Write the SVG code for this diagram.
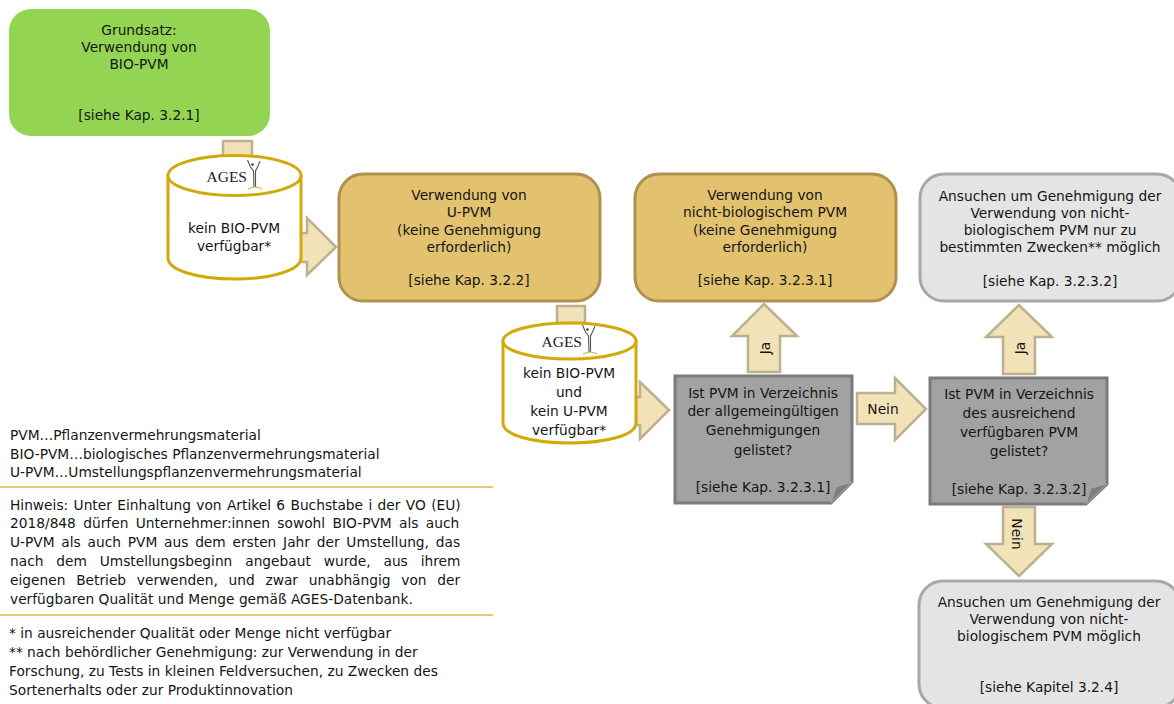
<svg xmlns="http://www.w3.org/2000/svg" width="1174" height="704" viewBox="0 0 1174 704">
<style>
text{font-family:"DejaVu Sans","Liberation Sans",sans-serif;font-size:13.75px;fill:#151515}
.c{text-anchor:middle}
.arrow{fill:#f1e2b8;stroke:#bdb08f;stroke-width:2.5;stroke-linejoin:miter}
.cyl{fill:#fff;stroke:#d1aa0a;stroke-width:3}
.gold{fill:#e2c26f;stroke:#b0924f;stroke-width:3}
.light{fill:#e4e4e4;stroke:#a8a8a8;stroke-width:3}
.note{fill:#a2a2a2;stroke:#7b7b7b;stroke-width:3}
.fold{fill:#7f7f7f;stroke:#a5a5a5;stroke-width:1}
.rule{stroke:#d9b84c;stroke-width:1.5}
.logo{font-family:"Liberation Serif",serif;font-size:15.5px;fill:#222}
</style>
<defs>
<g id="logo">
<text class="logo" x="0" y="0" text-anchor="end">AGES</text>
<path d="M0.5-22 3.500-15 6.500-11 7 5M13-21 10.500-15 8.500-11 8.500 5" fill="none" stroke="#555" stroke-width="1.1"/>
<circle cx="5.500" cy="-17.500" r="1.3" fill="#444"/>
<path d="M1 7Q8 3 15 7" fill="none" stroke="#d1aa0a" stroke-width="1"/>
</g>
</defs>
<g id="connectors">
<path class="arrow" d="M223 141H252V158H223Z"/>
<path class="arrow" d="M300 233H307V218L336 247 307 275V262H300Z"/>
<path class="arrow" d="M557 306H585V323H557Z"/>
<path class="arrow" d="M636 397H640V382L669 410 640 439V425H636Z"/>
<path class="arrow" d="M748 372V336H732L764 304 797 336H780V372Z"/>
<path class="arrow" d="M857 393H895V378L926 409 895 440V424H857Z"/>
<path class="arrow" d="M1003 374V337H986L1019 305 1052 337H1035V374Z"/>
<path class="arrow" d="M1003 507V544H986L1019 576 1052 544H1035V507Z"/>
<text class="c" transform="translate(770,348) rotate(-90)">Ja</text>
<text class="c" x="883" y="414">Nein</text>
<text class="c" transform="translate(1025,348) rotate(-90)">Ja</text>
<text class="c" transform="translate(1012,534) rotate(90)">Nein</text>
</g>
<g id="n-grundsatz">
<rect x="9" y="9" width="261" height="127" rx="22" fill="#93d552"/>
<text class="c" x="139" y="35">Grundsatz:</text><text class="c" x="139" y="52">Verwendung von</text><text class="c" x="139" y="69">BIO-PVM</text><text class="c" x="139" y="120">[siehe Kap. 3.2.1]</text>
</g>
<g id="n-db1">
<path class="cyl" d="M168 176V258C168 270 197 279 234.500 279S301 270 301 258V176Z"/>
<ellipse class="cyl" cx="234.500" cy="175.500" rx="66.500" ry="20"/>
<use href="#logo" x="247" y="182"/>
<text class="c" x="234" y="233">kein BIO-PVM</text><text class="c" x="234" y="251">verfügbar*</text>
</g>
<g id="n-upvm">
<rect class="gold" x="339" y="174" width="261" height="127" rx="24"/>
<text class="c" x="469" y="200">Verwendung von</text><text class="c" x="469" y="217">U-PVM</text><text class="c" x="469" y="235">(keine Genehmigung</text><text class="c" x="469" y="252">erforderlich)</text><text class="c" x="469" y="285">[siehe Kap. 3.2.2]</text>
</g>
<g id="n-nonbio">
<rect class="gold" x="635" y="174" width="261" height="127" rx="24"/>
<text class="c" x="765" y="200">Verwendung von</text><text class="c" x="765" y="217">nicht-biologischem PVM</text><text class="c" x="765" y="235">(keine Genehmigung</text><text class="c" x="765" y="252">erforderlich)</text><text class="c" x="765" y="285">[siehe Kap. 3.2.3.1]</text>
</g>
<g id="n-ansuchen1">
<rect class="light" x="920" y="174" width="261" height="127" rx="24"/>
<text class="c" x="1050" y="201">Ansuchen um Genehmigung der</text><text class="c" x="1050" y="218">Verwendung von nicht-</text><text class="c" x="1050" y="235">biologischem PVM nur zu</text><text class="c" x="1050" y="252">bestimmten Zwecken** möglich</text><text class="c" x="1050" y="286">[siehe Kap. 3.2.3.2]</text>
</g>
<g id="n-db2">
<path class="cyl" d="M503 341V423C503 435 532 443 569.500 443S636 435 636 423V341Z"/>
<ellipse class="cyl" cx="569.500" cy="341" rx="66.500" ry="18"/>
<use href="#logo" x="582" y="347"/>
<text class="c" x="569" y="378">kein BIO-PVM</text><text class="c" x="569" y="397">und</text><text class="c" x="569" y="416">kein U-PVM</text><text class="c" x="569" y="435">verfügbar*</text>
</g>
<g id="n-q1">
<path class="note" d="M675 376H852V482L831 503H675Z"/>
<path class="fold" d="M831 503 836 487 852 482Z"/>
<text class="c" x="763" y="398">Ist PVM in Verzeichnis</text><text class="c" x="763" y="416">der allgemeingültigen</text><text class="c" x="763" y="435">Genehmigungen</text><text class="c" x="763" y="455">gelistet?</text><text class="c" x="763" y="492">[siehe Kap. 3.2.3.1]</text>
</g>
<g id="n-q2">
<path class="note" d="M930 378H1107V484L1086 504H930Z"/>
<path class="fold" d="M1086 504 1091 488 1107 484Z"/>
<text class="c" x="1019" y="399">Ist PVM in Verzeichnis</text><text class="c" x="1019" y="418">des ausreichend</text><text class="c" x="1019" y="437">verfügbaren PVM</text><text class="c" x="1019" y="456">gelistet?</text><text class="c" x="1019" y="494">[siehe Kap. 3.2.3.2]</text>
</g>
<g id="n-ansuchen2">
<rect class="light" x="919" y="581" width="261" height="127" rx="24"/>
<text class="c" x="1049" y="607">Ansuchen um Genehmigung der</text><text class="c" x="1049" y="624">Verwendung von nicht-</text><text class="c" x="1049" y="641">biologischem PVM möglich</text><text class="c" x="1049" y="692">[siehe Kapitel 3.2.4]</text>
</g>
<g id="legend">
<text x="10" y="440">PVM…Pflanzenvermehrungsmaterial</text>
<text x="10" y="459">BIO-PVM…biologisches Pflanzenvermehrungsmaterial</text>
<text x="10" y="477">U-PVM…Umstellungspflanzenvermehrungsmaterial</text>
<line class="rule" x1="0" y1="487" x2="493" y2="487"/>
<text x="10" y="510" word-spacing="1">Hinweis: Unter Einhaltung von Artikel 6 Buchstabe i der VO (EU)</text>
<text x="10" y="528" word-spacing="3">2018/848 dürfen Unternehmer:innen sowohl BIO-PVM als auch</text>
<text x="10" y="547" word-spacing="2.4">U-PVM als auch PVM aus dem ersten Jahr der Umstellung, das</text>
<text x="10" y="566" word-spacing="8.5">nach dem Umstellungsbeginn angebaut wurde, aus ihrem</text>
<text x="10" y="585" word-spacing="6.4">eigenen Betrieb verwenden, und zwar unabhängig von der</text>
<text x="10" y="604">verfügbaren Qualität und Menge gemäß AGES-Datenbank.</text>
<line class="rule" x1="0" y1="615" x2="493" y2="615"/>
<text x="9" y="638">* in ausreichender Qualität oder Menge nicht verfügbar</text>
<text x="9" y="657">** nach behördlicher Genehmigung: zur Verwendung in der</text>
<text x="9" y="676">Forschung, zu Tests in kleinen Feldversuchen, zu Zwecken des</text>
<text x="9" y="695">Sortenerhalts oder zur Produktinnovation</text>
</g>
</svg>
